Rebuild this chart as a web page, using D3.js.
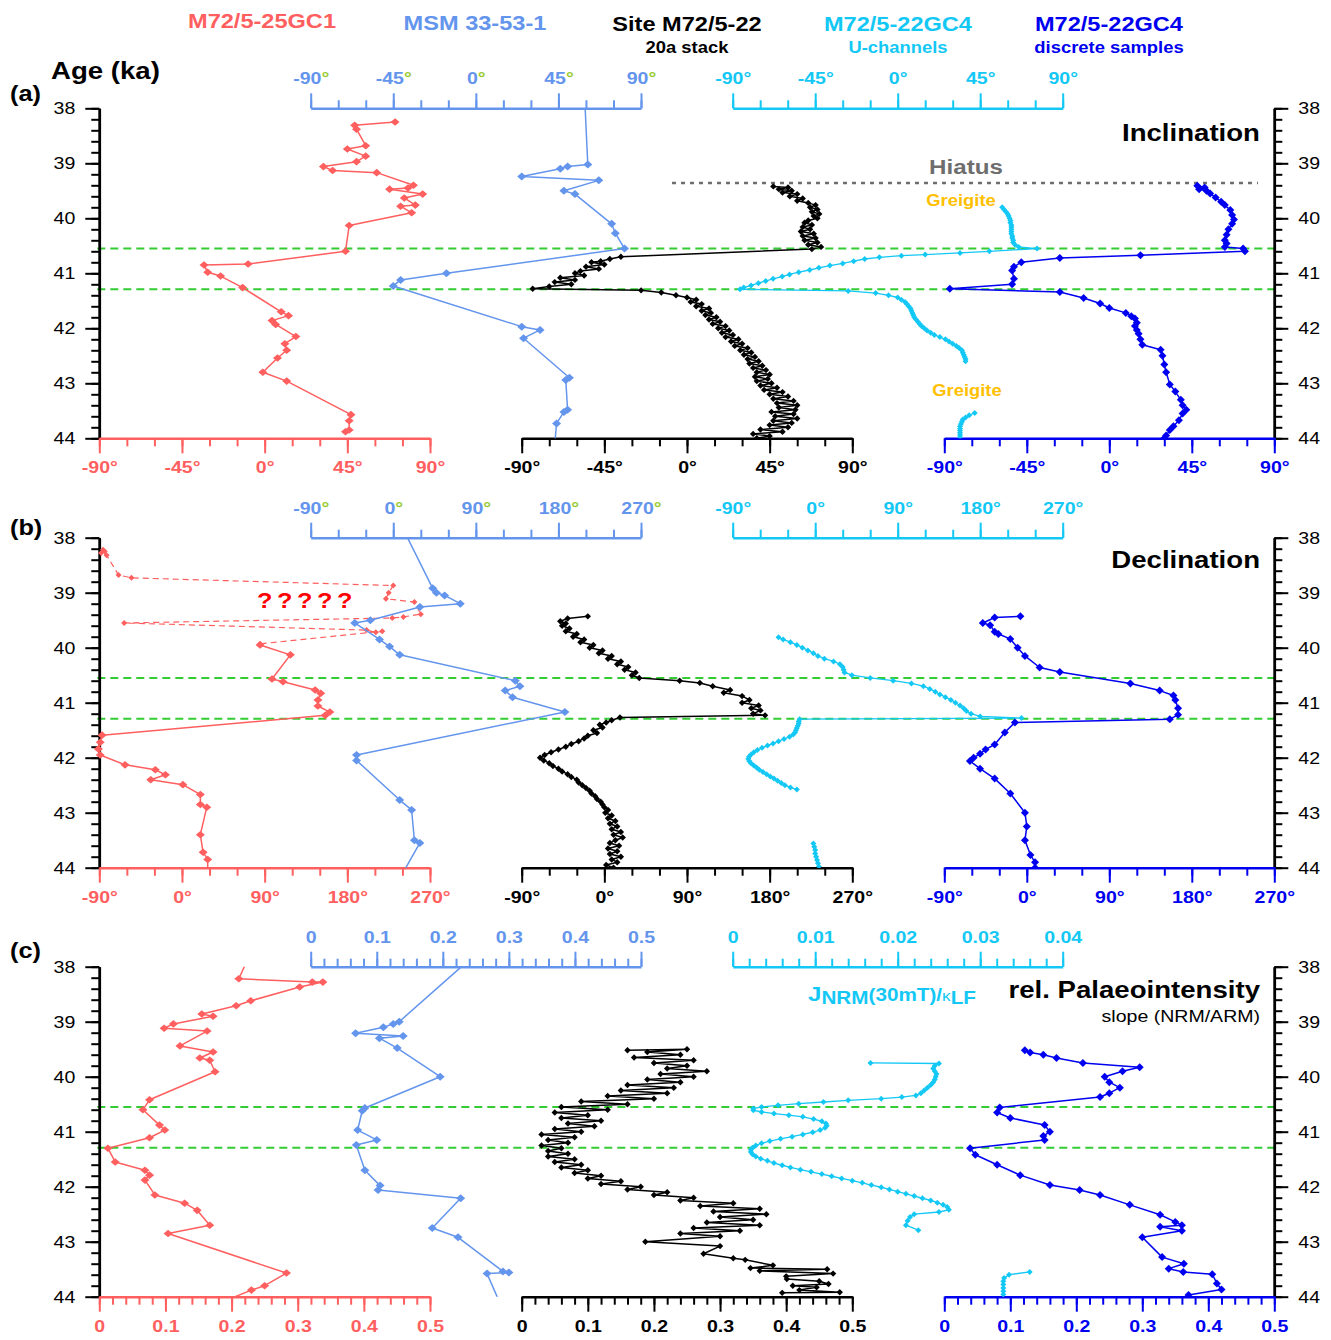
<!DOCTYPE html>
<html>
<head>
<meta charset="utf-8">
<script src="https://d3js.org/d3.v7.min.js"></script>
<style>
  body { margin: 0; background: #fff; }
  text { font-family: "Liberation Sans", Arial, sans-serif; }
</style>
</head>
<body>
<script>
"use strict";

/* ---------- data: [age ka, value] ---------- */
// (a) inclination
var incRed = [[38.25,71],[38.31,49],[38.38,50],[38.68,55],[38.74,45],[38.87,55],[38.97,50],[39.06,32],[39.13,37],[39.17,61],[39.4,81],[39.45,78],[39.47,68],[39.56,86],[39.63,76],[39.76,82],[39.78,74],[39.9,80],[40.13,46],[40.6,44],[40.83,-9],[40.85,-33],[40.98,-31],[41.05,-24],[41.26,-12],[41.7,9],[41.77,13],[41.86,4],[41.93,6],[42.15,17],[42.28,11],[42.4,12],[42.54,7],[42.8,-1],[42.96,12],[43.57,47],[43.68,46],[43.85,46],[43.88,44]];
var incMsm = [[37.95,59.5],[39.02,61],[39.06,50],[39.1,46],[39.24,25],[39.31,67],[39.5,48],[39.56,54],[40.1,74],[40.27,76],[40.55,81],[41.0,-16],[41.12,-41],[41.23,-45],[41.97,25],[42.03,35],[42.18,26],[42.9,51],[42.94,49],[43.48,50],[43.52,48],[43.73,44],[44.1,43]];
var incStack = [[39.42,47],[39.44,55],[39.47,50],[39.5,57],[39.53,52],[39.56,60],[39.6,56],[39.64,63],[39.68,60],[39.72,66],[39.76,70],[39.8,67],[39.84,71],[39.88,68],[39.92,72],[39.96,69],[40.0,71],[40.04,66],[40.08,64],[40.12,68],[40.16,63],[40.2,67],[40.24,62],[40.28,69],[40.32,63],[40.36,70],[40.4,64],[40.44,71],[40.48,66],[40.52,73],[40.56,68],[40.7,-36],[40.74,-42],[40.78,-47],[40.8,-52],[40.84,-45],[40.88,-55],[40.92,-48],[40.96,-58],[41.0,-61],[41.04,-56],[41.08,-69],[41.12,-61],[41.16,-72],[41.2,-63],[41.24,-75],[41.28,-84],[41.31,-25],[41.35,-14],[41.4,-6],[41.44,0],[41.48,5],[41.52,2],[41.56,8],[41.6,5],[41.64,12],[41.68,8],[41.72,13],[41.76,10],[41.8,16],[41.84,12],[41.88,18],[41.92,14],[41.96,21],[42.0,17],[42.04,23],[42.08,19],[42.12,25],[42.16,21],[42.2,28],[42.24,24],[42.28,30],[42.32,26],[42.36,33],[42.4,29],[42.44,35],[42.48,31],[42.52,37],[42.56,33],[42.6,39],[42.64,34],[42.68,41],[42.72,36],[42.76,43],[42.8,38],[42.84,45],[42.88,37],[42.92,44],[42.96,38],[43.0,46],[43.04,40],[43.08,49],[43.12,42],[43.16,52],[43.2,45],[43.24,55],[43.28,47],[43.32,58],[43.36,49],[43.4,60],[43.44,50],[43.48,59],[43.52,46],[43.56,58],[43.6,48],[43.64,60],[43.68,47],[43.72,57],[43.76,45],[43.8,55],[43.84,40],[43.88,52],[43.92,36],[43.96,45],[44.0,38]];
var incUch = [[39.8,57],[39.84,58],[39.88,59],[39.92,60],[39.96,60.5],[40.0,61],[40.04,61.5],[40.08,61.5],[40.12,62],[40.16,62],[40.2,62],[40.24,62],[40.28,62],[40.32,62.5],[40.36,62.5],[40.4,63],[40.44,63],[40.48,64],[40.52,66],[40.55,76],[40.6,50],[40.63,34],[40.66,15],[40.68,2],[40.71,-10],[40.74,-18],[40.78,-24],[40.82,-30],[40.86,-37],[40.9,-43],[40.94,-48],[40.98,-54],[41.02,-59],[41.06,-63],[41.1,-68],[41.14,-72],[41.18,-76],[41.22,-80],[41.26,-84],[41.29,-86],[41.32,-27],[41.36,-12],[41.4,-5],[41.44,0],[41.48,2],[41.52,4],[41.56,5],[41.6,6],[41.64,7],[41.68,7.5],[41.72,8],[41.76,8.5],[41.8,9],[41.84,10],[41.88,11],[41.92,12],[41.96,13],[42.0,14.5],[42.04,16],[42.08,18],[42.12,20],[42.16,23],[42.2,26],[42.24,28],[42.28,30],[42.32,32],[42.36,33.5],[42.4,35],[42.44,35.5],[42.48,36],[42.52,36.5],[42.56,37],[42.6,37],null,[43.54,42],[43.58,39],[43.62,37],[43.66,35.5],[43.7,35],[43.74,34.5],[43.78,34],[43.82,34],[43.86,34],[43.9,34],[43.94,34],[43.98,34],[44.02,34]];
var incDisc = [[39.41,48],[39.44,52],[39.47,49],[39.5,53],[39.55,55],[39.62,58],[39.7,61],[39.76,63],[39.85,66],[39.94,67],[40.02,68],[40.1,67],[40.2,65],[40.3,64],[40.4,63],[40.46,64],[40.52,63],[40.55,73],[40.6,74],[40.67,17],[40.72,-27],[40.8,-48],[40.88,-52],[40.95,-53],[41.1,-52],[41.2,-53],[41.28,-87],[41.34,-27],[41.45,-14],[41.55,-5],[41.63,0],[41.72,9],[41.78,12],[41.82,14],[41.9,15],[41.96,14],[42.03,15],[42.1,16],[42.2,17],[42.3,18],[42.39,28],[42.5,29],[42.66,30],[42.8,31],[43.02,33],[43.15,36],[43.3,39],[43.4,40],[43.48,42],[43.55,40],[43.67,38],[43.78,35],[43.85,33],[43.95,31],[44.0,30]];

// (b) declination
var decRedDash = [[38.22,-86],[38.25,-84],[38.28,-88],[38.32,-82],[38.68,-69],[38.73,-55],[38.87,230],[39.0,225],[39.11,222],[39.17,253],[39.39,260],[39.44,241],[39.46,229],[39.55,-63],[39.68,201],[39.72,211],[39.7,218],[39.93,85]];
var decRed = [[39.95,85],[40.13,118],[40.57,98],[40.62,110],[40.77,145],[40.83,151],[40.95,148],[41.06,148],[41.17,161],[41.23,156],[41.59,-87],[41.72,-89],[41.84,-91],[41.95,-89],[42.13,-62],[42.22,-29],[42.31,-18],[42.4,-34],[42.49,1],[42.67,20],[42.85,20],[42.9,27],[43.4,20],[43.72,23],[43.85,28],[44.05,28]];
var decMsm = [[37.95,14],[38.92,43],[39.0,47],[39.05,56],[39.2,73],[39.26,29],[39.5,-25],[39.55,-42],[39.85,-15],[39.98,-4],[40.13,7],[40.6,133],[40.7,138],[40.78,122],[40.9,130],[41.17,187],[41.95,-40],[42.05,-40],[42.77,7],[42.95,20],[43.5,23],[43.55,29],[44.05,12]];
var decStack = [[39.43,-18],[39.47,-40],[39.52,-48],[39.56,-42],[39.6,-46],[39.65,-38],[39.7,-42],[39.75,-30],[39.8,-34],[39.85,-22],[39.9,-26],[39.95,-12],[40.0,-16],[40.05,-2],[40.1,-6],[40.15,8],[40.2,4],[40.25,18],[40.3,14],[40.35,26],[40.4,22],[40.45,34],[40.5,30],[40.55,38],[40.6,82],[40.64,104],[40.7,118],[40.77,137],[40.82,130],[40.88,150],[40.95,158],[41.0,150],[41.05,168],[41.1,160],[41.14,170],[41.2,162],[41.23,175],[41.27,17],[41.32,8],[41.36,2],[41.4,-5],[41.45,-2],[41.5,-12],[41.55,-8],[41.6,-18],[41.65,-22],[41.7,-28],[41.75,-36],[41.8,-42],[41.85,-50],[41.9,-58],[41.95,-65],[42.0,-70],[42.05,-66],[42.1,-60],[42.15,-56],[42.2,-50],[42.25,-46],[42.3,-40],[42.35,-36],[42.4,-30],[42.45,-28],[42.5,-24],[42.55,-20],[42.6,-16],[42.65,-14],[42.7,-10],[42.75,-8],[42.8,-4],[42.85,-2],[42.9,0],[42.95,4],[43.0,1],[43.05,8],[43.1,4],[43.15,12],[43.2,6],[43.25,14],[43.3,8],[43.35,18],[43.4,10],[43.45,20],[43.5,12],[43.55,6],[43.6,16],[43.65,4],[43.7,14],[43.75,6],[43.8,18],[43.85,8],[43.9,14],[43.95,2],[44.0,10]];
var decUch = [[39.81,-40],[39.85,-35],[39.9,-27],[39.95,-20],[40.0,-14],[40.05,-8],[40.1,-2],[40.15,3],[40.2,10],[40.25,20],[40.3,27],[40.35,30],[40.4,31],[40.45,32],[40.5,40],[40.55,60],[40.6,85],[40.65,105],[40.7,118],[40.75,125],[40.8,131],[40.85,136],[40.9,142],[40.95,148],[41.0,153],[41.05,158],[41.1,162],[41.15,165],[41.2,170],[41.25,180],[41.28,225],[41.3,-17],[41.34,-18],[41.38,-18],[41.42,-19],[41.46,-20],[41.5,-21],[41.54,-22],[41.58,-24],[41.62,-28],[41.66,-34],[41.7,-40],[41.74,-46],[41.78,-52],[41.82,-58],[41.86,-63],[41.9,-67],[41.94,-70],[41.98,-72],[42.02,-73],[42.06,-72],[42.1,-70],[42.14,-67],[42.18,-64],[42.22,-61],[42.26,-57],[42.3,-53],[42.34,-49],[42.38,-45],[42.42,-41],[42.46,-37],[42.5,-33],[42.54,-27],[42.58,-20],null,[43.56,-2],[43.62,-1],[43.68,0],[43.74,0],[43.8,1],[43.86,2],[43.92,3],[43.98,4],[44.02,5]];
var decDisc = [[39.43,-7],[39.45,-35],[39.55,-48],[39.59,-40],[39.71,-35],[39.75,-31],[39.84,-18],[40.0,-10],[40.15,-2],[40.36,14],[40.44,36],[40.65,113],[40.78,145],[40.87,160],[40.95,162],[41.1,165],[41.22,165],[41.3,156],[41.36,-13],[41.54,-24],[41.76,-35],[41.85,-45],[41.93,-51],[42.0,-58],[42.06,-62],[42.2,-51],[42.38,-35],[42.65,-18],[43.0,-2],[43.25,0],[43.5,-2],[43.77,4],[43.9,9],[44.0,9]];

// (c) relative palaeointensity
var piRed = [[37.98,0.22],[38.22,0.211],[38.28,0.322],[38.28,0.338],[38.37,0.303],[38.62,0.229],[38.71,0.207],[38.86,0.155],[38.9,0.172],[39.04,0.112],[39.12,0.098],[39.17,0.163],[39.44,0.122],[39.55,0.172],[39.66,0.152],[39.7,0.167],[39.91,0.175],[40.42,0.076],[40.6,0.066],[40.88,0.091],[40.97,0.099],[41.11,0.076],[41.3,0.013],[41.55,0.024],[41.7,0.069],[41.79,0.076],[41.88,0.069],[42.15,0.084],[42.3,0.129],[42.43,0.148],[42.7,0.167],[42.85,0.104],[43.57,0.283],[43.8,0.25],[43.88,0.23],[44.05,0.195]];
var piMsm = [[37.98,0.23],[39.0,0.134],[39.04,0.125],[39.1,0.11],[39.21,0.068],[39.26,0.14],[39.3,0.104],[39.48,0.131],[40.0,0.196],[40.57,0.082],[40.62,0.078],[40.97,0.071],[41.15,0.1],[41.24,0.069],[41.7,0.082],[41.98,0.105],[42.06,0.102],[42.21,0.227],[42.75,0.184],[42.92,0.223],[43.54,0.291],[43.56,0.3],[43.58,0.267],[44.05,0.284]];
var piStack = [[39.52,0.16],[39.5,0.25],[39.55,0.19],[39.6,0.24],[39.65,0.17],[39.7,0.26],[39.75,0.2],[39.8,0.25],[39.85,0.22],[39.9,0.28],[39.95,0.21],[40.0,0.26],[40.05,0.19],[40.1,0.24],[40.15,0.16],[40.2,0.23],[40.25,0.15],[40.3,0.22],[40.35,0.13],[40.4,0.2],[40.45,0.09],[40.5,0.16],[40.55,0.06],[40.6,0.13],[40.65,0.05],[40.7,0.1],[40.75,0.06],[40.8,0.12],[40.85,0.07],[40.9,0.11],[40.95,0.05],[41.0,0.09],[41.05,0.03],[41.1,0.08],[41.15,0.04],[41.2,0.07],[41.25,0.03],[41.3,0.06],[41.35,0.04],[41.4,0.07],[41.45,0.04],[41.5,0.08],[41.55,0.05],[41.6,0.09],[41.65,0.06],[41.7,0.1],[41.75,0.08],[41.8,0.12],[41.85,0.1],[41.9,0.15],[41.95,0.12],[42.0,0.18],[42.05,0.16],[42.1,0.22],[42.15,0.2],[42.2,0.26],[42.25,0.24],[42.3,0.32],[42.35,0.27],[42.4,0.36],[42.45,0.29],[42.5,0.37],[42.55,0.3],[42.6,0.35],[42.65,0.28],[42.7,0.36],[42.75,0.26],[42.8,0.33],[42.85,0.24],[42.9,0.3],[43.0,0.187],[43.08,0.3],[43.22,0.275],[43.3,0.32],[43.33,0.338],[43.43,0.38],[43.48,0.346],[43.5,0.462],[43.53,0.36],[43.58,0.471],[43.63,0.4],[43.68,0.401],[43.72,0.45],[43.77,0.464],[43.8,0.41],[43.83,0.446],[43.88,0.42],[43.92,0.481],[43.93,0.394]];
var piUch = [[39.75,0.0167],[39.76,0.025],[39.8,0.0245],[39.85,0.0243],[39.9,0.0245],[39.95,0.0247],[40.0,0.0246],[40.05,0.0245],[40.1,0.0243],[40.15,0.024],[40.2,0.0236],[40.25,0.0232],[40.3,0.0228],[40.34,0.0222],[40.37,0.0205],[40.4,0.018],[40.43,0.014],[40.46,0.011],[40.49,0.008],[40.52,0.0055],[40.55,0.0035],[40.58,0.0025],[40.61,0.0025],[40.64,0.0035],[40.67,0.005],[40.7,0.0068],[40.73,0.0085],[40.77,0.0098],[40.81,0.0108],[40.85,0.0113],[40.89,0.0114],[40.93,0.0112],[40.97,0.0106],[41.01,0.0097],[41.05,0.0085],[41.09,0.0072],[41.13,0.0058],[41.17,0.0045],[41.21,0.0035],[41.25,0.0028],[41.29,0.0024],[41.33,0.0022],[41.37,0.0022],[41.41,0.0024],[41.45,0.0028],[41.49,0.0034],[41.53,0.0042],[41.57,0.005],[41.61,0.006],[41.65,0.007],[41.69,0.0082],[41.73,0.0095],[41.77,0.0108],[41.81,0.012],[41.85,0.0132],[41.89,0.0145],[41.93,0.0157],[41.97,0.0168],[42.01,0.018],[42.05,0.019],[42.09,0.02],[42.13,0.021],[42.17,0.022],[42.21,0.023],[42.25,0.024],[42.29,0.0248],[42.33,0.0255],[42.37,0.026],[42.42,0.0262],[42.46,0.025],[42.5,0.022],[42.55,0.0215],[42.62,0.0212],[42.7,0.021],[42.79,0.0225],null,[43.55,0.036],[43.6,0.0335],[43.66,0.0329],[43.72,0.0328],[43.78,0.0328],[43.84,0.0328],[43.9,0.0328],[43.96,0.0328],[44.02,0.0328]];
var piDisc = [[39.52,0.122],[39.56,0.13],[39.6,0.15],[39.66,0.17],[39.75,0.21],[39.83,0.296],[39.9,0.27],[40.0,0.243],[40.1,0.25],[40.2,0.266],[40.3,0.25],[40.37,0.236],[40.56,0.084],[40.65,0.08],[40.75,0.1],[40.88,0.152],[41.0,0.16],[41.08,0.15],[41.15,0.152],[41.3,0.039],[41.42,0.047],[41.6,0.08],[41.79,0.115],[41.97,0.16],[42.06,0.205],[42.15,0.236],[42.33,0.281],[42.51,0.327],[42.64,0.35],[42.7,0.36],[42.73,0.327],[42.8,0.36],[42.92,0.3],[43.28,0.33],[43.4,0.363],[43.49,0.34],[43.55,0.362],[43.59,0.406],[43.76,0.413],[43.87,0.42],[43.97,0.37]];

var degTicks = [-90, -45, 0, 45, 90];
var decTicks = [-90, 0, 90, 180, 270];
var piTicks = [0, 0.1, 0.2, 0.3, 0.4, 0.5];
var uchPiTicks = [0, 0.01, 0.02, 0.03, 0.04];
var ageTicks = [38, 39, 40, 41, 42, 43, 44];
var transitionAges = [40.55, 41.29];
var hiatusAge = 39.36;

/* ---------- setup ---------- */
var W = 1331, H = 1340, SX = 1.15;
var RED = "#ff5f5f", MSM = "#6495ed", CYAN = "#14c8f5", BLUE = "#0000f0",
    GREEN = "#33cc33", DEG = "#99cc33", GOLD = "#ffc000", GREY = "#6e6e6e";

var svg = d3.select("body").append("svg")
  .attr("width", W).attr("height", H)
  .style("background", "#fff");

var xL = 99.3, xR = 1274.3;
var cols = {
  red: [99.3, 430], msm: [310.7, 641], stack: [521.7, 852.3],
  uch: [732.7, 1062.7], disc: [944.3, 1274.3]
};
var panels = [
  {top: 108.3, dom: [-90, 90], uchDom: [-90, 90], majors: degTicks, uchMajors: degTicks, minorStep: 15, uchMinorStep: 15, deg: true},
  {top: 537.7, dom: [-90, 270], uchDom: [-90, 270], majors: decTicks, uchMajors: decTicks, minorStep: 30, uchMinorStep: 30, deg: true},
  {top: 966.7, dom: [0, 0.5], uchDom: [0, 0.04], majors: piTicks, uchMajors: uchPiTicks, minorStep: 0.02, uchMinorStep: 0.002, deg: false}
];

// stretch text horizontally (the original uses a wide sans face)
function stretch(sel) {
  sel.each(function() {
    var t = d3.select(this);
    var x = +t.attr("x") || 0;
    t.attr("x", x / SX).attr("transform", "scale(" + SX + ",1)");
  });
}

function label(x, y, str, o) {
  o = o || {};
  var t = svg.append("text")
    .attr("x", x).attr("y", y)
    .attr("text-anchor", o.anchor || "middle")
    .attr("font-size", o.size || 20)
    .attr("font-weight", o.weight || "bold")
    .attr("fill", o.color || "#000")
    .text(str);
  stretch(t);
  return t;
}

function range(a, b, step) {
  var out = [], n = Math.round((b - a) / step);
  for (var i = 0; i <= n; i++) out.push(+(a + i * step).toFixed(6));
  return out;
}

function xAxis(g, scale, orient, color, majors, minorStep, deg, degColor) {
  var dom = scale.domain();
  var minors = range(dom[0], dom[1], minorStep);
  var mk = orient === "top" ? d3.axisTop : d3.axisBottom;
  var gm = g.append("g").call(mk(scale).tickValues(minors).tickSize(8).tickSizeOuter(0).tickFormat(""));
  var gM = g.append("g").call(mk(scale).tickValues(majors).tickSize(15).tickSizeOuter(0).tickPadding(8)
    .tickFormat(function(d) { return String(d); }));
  [gm, gM].forEach(function(a) {
    a.select(".domain").attr("stroke", color).attr("stroke-width", 2.5);
    a.selectAll(".tick line").attr("stroke", color).attr("stroke-width", 2);
  });
  gM.select(".domain").remove();
  gM.selectAll(".tick text")
    .attr("fill", color)
    .attr("font-size", 17).attr("font-weight", "bold")
    .attr("font-family", "Liberation Sans, Arial, sans-serif")
    .each(function(d) {
      var t = d3.select(this);
      t.text(null);
      t.append("tspan").text(String(d));
      if (deg) t.append("tspan").attr("fill", degColor || color).text("°");
    });
  gM.selectAll(".tick text").attr("y", orient === "top" ? -24 : 23).attr("dy", orient === "top" ? "0" : "0.71em");
  stretch(gM.selectAll(".tick text"));
}

function yAxis(g, scale, side) {
  var mk = side === "left" ? d3.axisLeft : d3.axisRight;
  var gm = g.append("g").call(mk(scale).tickValues(range(38, 44, 0.2)).tickSize(8).tickSizeOuter(0).tickFormat(""));
  var gM = g.append("g").call(mk(scale).tickValues(ageTicks).tickSize(14).tickSizeOuter(0).tickPadding(10).tickFormat(d3.format("d")));
  [gm, gM].forEach(function(a) {
    a.select(".domain").attr("stroke", "#000").attr("stroke-width", 2.5);
    a.selectAll(".tick line").attr("stroke", "#000").attr("stroke-width", 2);
  });
  gM.selectAll(".tick text").attr("fill", "#000").attr("font-size", 17)
    .attr("font-family", "Liberation Sans, Arial, sans-serif");
  stretch(gM.selectAll(".tick text"));
}

function diamond(w, h) {
  return "M0," + (-h) + "L" + w + ",0L0," + h + "L" + (-w) + ",0Z";
}

function series(g, data, xs, ys, color, mw, o) {
  o = o || {};
  var line = d3.line()
    .defined(function(d) { return d !== null; })
    .x(function(d) { return xs(d[1]); })
    .y(function(d) { return ys(d[0]); });
  g.append("path").datum(data)
    .attr("d", line)
    .attr("fill", "none")
    .attr("stroke", color)
    .attr("stroke-width", o.width || 1.5)
    .attr("stroke-dasharray", o.dash || null)
    .attr("stroke-linejoin", "round");
  g.selectAll(null)
    .data(data.filter(function(d) { return d !== null && d[0] >= 38 && d[0] <= 44; }))
    .enter().append("path")
    .attr("transform", function(d) { return "translate(" + xs(d[1]) + "," + ys(d[0]) + ")"; })
    .attr("d", diamond(mw, o.mh || mw))
    .attr("fill", color);
}

var seriesByPanel = [
  [incRed, incMsm, incStack, incUch, incDisc],
  [decRed, decMsm, decStack, decUch, decDisc],
  [piRed, piMsm, piStack, piUch, piDisc]
];

panels.forEach(function(p, i) {
  var y = d3.scaleLinear().domain([38, 44]).range([p.top, p.top + 330]);
  var bottom = p.top + 330;
  var sc = {};
  ["red", "msm", "stack", "disc"].forEach(function(k) {
    sc[k] = d3.scaleLinear().domain(p.dom).range(cols[k]);
  });
  sc.uch = d3.scaleLinear().domain(p.uchDom).range(cols.uch);

  var clipId = "clip" + i;
  svg.append("clipPath").attr("id", clipId).append("rect")
    .attr("x", 0).attr("y", p.top).attr("width", W).attr("height", 330);

  // transition lines
  svg.append("g").selectAll("line").data(transitionAges).enter().append("line")
    .attr("x1", xL - 2).attr("x2", xR)
    .attr("y1", function(d) { return y(d); }).attr("y2", function(d) { return y(d); })
    .attr("stroke", GREEN).attr("stroke-width", 2).attr("stroke-dasharray", "8,5");

  if (i === 0) {
    svg.append("line")
      .attr("x1", 672).attr("x2", 1258)
      .attr("y1", y(hiatusAge)).attr("y2", y(hiatusAge))
      .attr("stroke", GREY).attr("stroke-width", 2.5).attr("stroke-dasharray", "4,5");
  }

  // axes
  yAxis(svg.append("g").attr("transform", "translate(" + xL + ",0)"), y, "left");
  yAxis(svg.append("g").attr("transform", "translate(" + xR + ",0)"), y, "right");
  xAxis(svg.append("g").attr("transform", "translate(0," + bottom + ")"), sc.red, "bottom", RED, p.majors, p.minorStep, p.deg);
  xAxis(svg.append("g").attr("transform", "translate(0," + bottom + ")"), sc.stack, "bottom", "#000", p.majors, p.minorStep, p.deg);
  xAxis(svg.append("g").attr("transform", "translate(0," + bottom + ")"), sc.disc, "bottom", BLUE, p.majors, p.minorStep, p.deg);
  xAxis(svg.append("g").attr("transform", "translate(0," + p.top + ")"), sc.msm, "top", MSM, p.majors, p.minorStep, p.deg, DEG);
  xAxis(svg.append("g").attr("transform", "translate(0," + p.top + ")"), sc.uch, "top", CYAN, p.uchMajors, p.uchMinorStep, p.deg);

  // data
  var g = svg.append("g").attr("clip-path", "url(#" + clipId + ")");
  var s = seriesByPanel[i];
  if (i === 1) series(g, decRedDash, sc.red, y, RED, 3, {dash: "6,4", width: 1.2});
  series(g, s[0], sc.red, y, RED, 4.5, {mh: 3.8});
  series(g, s[1], sc.msm, y, MSM, 4.5, {mh: 4});
  series(g, s[2], sc.stack, y, "#000", 3.2);
  series(g, s[3], sc.uch, y, CYAN, 3, {width: 1.3});
  series(g, s[4], sc.disc, y, BLUE, 4, {mh: 4});
});

/* ---------- texts ---------- */
label(262, 28, "M72/5-25GC1", {color: RED, size: 20.5});
label(475, 30, "MSM 33-53-1", {color: MSM, size: 20.5});
label(687, 31, "Site M72/5-22", {color: "#000", size: 20.5});
label(687, 53, "20a stack", {color: "#000", size: 16});
label(898, 31, "M72/5-22GC4", {color: CYAN, size: 20.5});
label(898, 53, "U-channels", {color: CYAN, size: 16});
label(1109, 31, "M72/5-22GC4", {color: BLUE, size: 20.5});
label(1109, 53, "discrete samples", {color: BLUE, size: 16});

label(51, 79, "Age (ka)", {anchor: "start", size: 24});
label(10, 101, "(a)", {anchor: "start", size: 22});
label(10, 535, "(b)", {anchor: "start", size: 22});
label(10, 958, "(c)", {anchor: "start", size: 22});

label(1260, 141, "Inclination", {anchor: "end", size: 24});
label(1260, 568, "Declination", {anchor: "end", size: 24});
label(1260, 998, "rel. Palaeointensity", {anchor: "end", size: 24});
label(1260, 1022, "slope (NRM/ARM)", {anchor: "end", size: 17, weight: "normal"});

label(966, 174, "Hiatus", {color: GREY, size: 21});
label(961, 206, "Greigite", {color: GOLD, size: 16});
label(967, 396, "Greigite", {color: GOLD, size: 16});
label(307, 608, "?????", {color: "#ff0000", size: 22}).attr("letter-spacing", 4);

var jt = svg.append("text").attr("x", 808).attr("y", 1001)
  .attr("fill", CYAN).attr("font-weight", "bold").attr("font-size", 18);
jt.append("tspan").attr("font-size", 21).text("J");
jt.append("tspan").attr("dy", 3).text("NRM");
jt.append("tspan").attr("dy", -3).text("(30mT)/");
jt.append("tspan").attr("font-size", 15).attr("font-weight", "normal").text("κ");
jt.append("tspan").attr("dy", 3).text("LF");
stretch(jt);
</script>
</body>
</html>
